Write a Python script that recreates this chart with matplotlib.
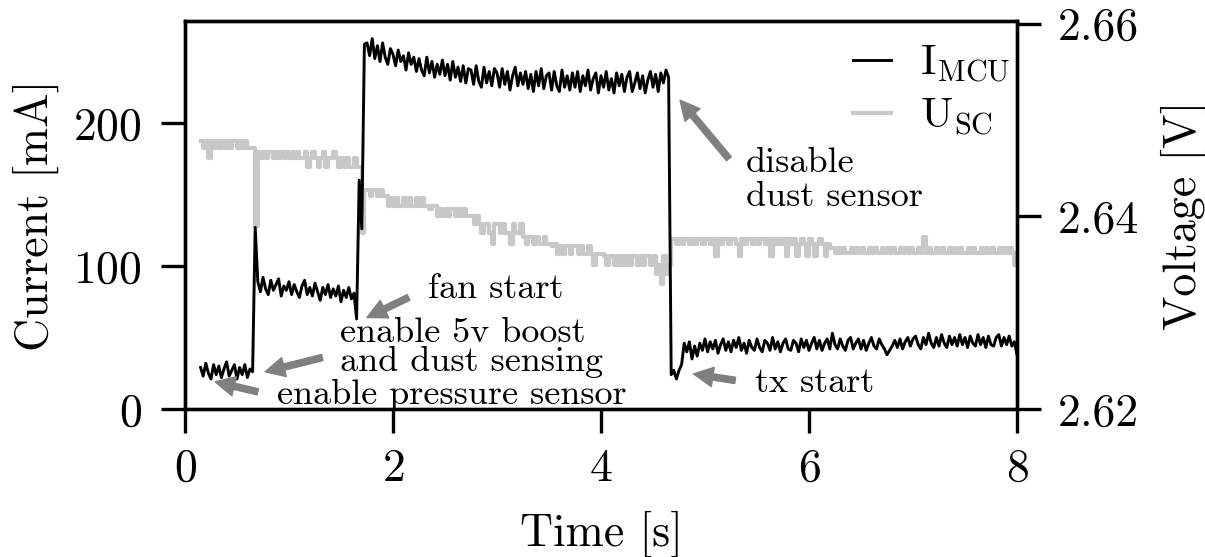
import numpy as np
import matplotlib
matplotlib.use("Agg")
import matplotlib.pyplot as plt
from matplotlib.ticker import FormatStrFormatter

plt.rcParams['font.family'] = 'serif'
plt.rcParams['font.serif'] = ['cmr10']
plt.rcParams['mathtext.fontset'] = 'cm'
plt.rcParams['axes.formatter.use_mathtext'] = True
plt.rcParams['axes.unicode_minus'] = False

# ---------------- data (sampled every 25 ms starting at 0.15 s) ----------------
t_start = 0.15
dt = 0.025

i_mcu = [
    # 0.15 - 0.625 s : pressure sensor
    29, 23, 32, 25, 21, 31, 24, 30, 22, 28, 33, 23, 27, 31, 21, 29, 24, 31, 22, 28,
    26, 127,
    # 0.70 - 1.60 s : 5v boost + dust sensing
    89, 82, 92, 84, 80, 90, 83, 87, 91, 79, 86, 83, 89, 80, 87, 82, 78, 86, 90, 80,
    85, 79, 88, 82, 76, 85, 80, 87, 78, 84, 79, 86, 75, 83, 78, 85, 77,
    # fan start transient
    81, 63, 160, 126, 255,
    # 1.75 - 4.65 s : fan running
    256, 247, 259, 245, 254, 243, 256, 246, 241, 252,
    248, 240, 251, 243, 247, 237, 249, 241, 246, 236,
    245, 237, 233, 246, 235, 243, 232, 241, 234, 244,
    233, 241, 230, 243, 232, 239, 229, 240, 228, 238,
    237, 227, 240, 229, 225, 239, 228, 236, 226, 238,
    235, 225, 238, 227, 236, 223, 233, 239, 226, 235,
    227, 236, 224, 234, 222, 236, 226, 238, 224, 233,
    235, 223, 236, 226, 222, 237, 225, 233, 223, 235,
    225, 236, 222, 233, 226, 237, 223, 231, 235, 221,
    233, 225, 236, 223, 231, 221, 235, 226, 234, 222,
    232, 236, 222, 228, 235, 224, 233, 221, 230, 236,
    225, 234, 222, 235, 228, 237, 232,
    # dust sensor off, tx start
    24, 27, 21, 27, 31, 46, 40, 47, 35, 44, 37, 46,
    # 4.975 - 8.0 s
    41, 49, 40, 47, 42, 48, 39, 45, 49, 41,
    47, 40, 48, 43, 50, 41, 46, 39, 48, 43,
    41, 49, 43, 40, 48, 46, 41, 50, 42, 47,
    40, 46, 49, 42, 41, 48, 46, 40, 49, 43,
    48, 41, 46, 50, 42, 48, 41, 46, 49, 42,
    53, 45, 42, 49, 44, 41, 48, 50, 42, 46,
    49, 42, 48, 41, 46, 50, 44, 42, 49, 45,
    42, 38, 41, 44, 48, 43, 49, 42, 47, 50,
    44, 49, 51, 45, 42, 50, 45, 53, 46, 43,
    50, 44, 52, 46, 43, 51, 45, 50, 44, 52,
    45, 50, 43, 51, 46, 44, 52, 45, 50, 43,
    51, 45, 44, 50, 52, 44, 50, 45, 51, 44,
    47, 38,
]

u_sc = [
    2.6478, 2.6471, 2.6478, 2.6461, 2.6478, 2.6471, 2.6478, 2.6471, 2.6478, 2.6471,
    2.6478, 2.6471, 2.6478, 2.6478, 2.6471, 2.6478, 2.6471, 2.6478, 2.6471, 2.6471,
    2.6471, 2.6390,
    2.6467, 2.6461, 2.6467, 2.6461, 2.6467, 2.6467, 2.6461, 2.6467, 2.6461, 2.6467,
    2.6461, 2.6467, 2.6461, 2.6467, 2.6461, 2.6467, 2.6461, 2.6461, 2.6467, 2.6451,
    2.6461, 2.6467, 2.6461, 2.6451, 2.6461, 2.6467, 2.6451, 2.6461, 2.6461, 2.6467,
    2.6461, 2.6451, 2.6461, 2.6451, 2.6461, 2.6451, 2.6451,
    2.6461, 2.6451, 2.6451, 2.6383, 2.6427,
    2.6427, 2.6421, 2.6427, 2.6427, 2.6421, 2.6427, 2.6421, 2.6421, 2.6411, 2.6419,
    2.6411, 2.6419, 2.6411, 2.6411, 2.6419, 2.6411, 2.6419, 2.6411, 2.6411, 2.6419,
    2.6411, 2.6419, 2.6411, 2.6411, 2.6408, 2.6411, 2.6411, 2.6400, 2.6408, 2.6400,
    2.6408, 2.6400, 2.6408, 2.6408, 2.6400, 2.6408, 2.6400, 2.6408, 2.6400, 2.6400,
    2.6400, 2.6392, 2.6400, 2.6392, 2.6383, 2.6392, 2.6392, 2.6383, 2.6371, 2.6392,
    2.6392, 2.6383, 2.6392, 2.6383, 2.6383, 2.6371, 2.6392, 2.6383, 2.6383, 2.6392,
    2.6379, 2.6371, 2.6379, 2.6379, 2.6371, 2.6379, 2.6371, 2.6371, 2.6379, 2.6371,
    2.6371, 2.6369, 2.6371, 2.6361, 2.6369, 2.6361, 2.6369, 2.6369, 2.6361, 2.6369,
    2.6369, 2.6361, 2.6369, 2.6361, 2.6361, 2.6369, 2.6361, 2.6350, 2.6361, 2.6361,
    2.6361, 2.6359, 2.6350, 2.6359, 2.6359, 2.6350, 2.6359, 2.6350, 2.6359, 2.6350,
    2.6359, 2.6350, 2.6359, 2.6359, 2.6350, 2.6359, 2.6350, 2.6359, 2.6359, 2.6350,
    2.6359, 2.6340, 2.6350, 2.6330, 2.6359, 2.6340, 2.6350,
    2.6377, 2.6377, 2.6371, 2.6377, 2.6371, 2.6377, 2.6377, 2.6371, 2.6377, 2.6371,
    2.6377, 2.6377,
    2.6371, 2.6377, 2.6377, 2.6371, 2.6377, 2.6359, 2.6377, 2.6371, 2.6377, 2.6377,
    2.6371, 2.6377, 2.6377, 2.6371, 2.6359, 2.6377, 2.6371, 2.6377, 2.6377, 2.6371,
    2.6377, 2.6371, 2.6377, 2.6377, 2.6371, 2.6377, 2.6359, 2.6377, 2.6371, 2.6377,
    2.6371, 2.6377, 2.6359, 2.6377, 2.6371, 2.6377, 2.6359, 2.6371, 2.6377, 2.6371,
    2.6359, 2.6377, 2.6371, 2.6359, 2.6371, 2.6377, 2.6371, 2.6359, 2.6371, 2.6367,
    2.6367, 2.6362, 2.6367, 2.6362, 2.6367, 2.6362, 2.6362, 2.6367, 2.6362, 2.6367,
    2.6362, 2.6367, 2.6362, 2.6362, 2.6367, 2.6362, 2.6367, 2.6362, 2.6362, 2.6367,
    2.6362, 2.6367, 2.6362, 2.6367, 2.6362, 2.6362, 2.6367, 2.6362, 2.6367, 2.6362,
    2.6367, 2.6362, 2.6362, 2.6367, 2.6362, 2.6379, 2.6362, 2.6367, 2.6362, 2.6362,
    2.6367, 2.6362, 2.6367, 2.6362, 2.6362, 2.6367, 2.6362, 2.6367, 2.6362, 2.6367,
    2.6362, 2.6362, 2.6367, 2.6362, 2.6367, 2.6362, 2.6362, 2.6367, 2.6362, 2.6367,
    2.6362, 2.6367, 2.6362, 2.6362, 2.6367, 2.6362, 2.6367, 2.6362, 2.6367, 2.6362,
    2.6350, 2.6362,
]

x_ticks = [0, 2, 4, 6, 8]
i_ticks = [0, 100, 200]
u_ticks = [2.62, 2.64, 2.66]

# annotations: (text, text position (t, mA), arrow tail (t, mA), arrow tip (t, mA), line spacing)
annotations = [
    ("disable\ndust sensor", (5.39, 160), (5.23, 175), (4.76, 216), 1.06),
    ("fan start", (2.34, 84), (2.15, 78), (1.75, 64), 1.0),
    ("enable 5v boost\nand dust sensing", (1.49, 43), (1.32, 36), (0.77, 26), 0.86),
    ("enable pressure sensor", (0.885, 10), (0.70, 12), (0.29, 19), 1.0),
    ("tx start", (5.48, 18), (5.29, 20), (4.89, 24.5), 1.0),
]

# ---------------- plot ----------------
t_i = t_start + dt * np.arange(len(i_mcu))
t_u = t_start + dt * np.arange(len(u_sc))

W, H = 1205, 557
fig = plt.figure(figsize=(W / 100, H / 100), dpi=100)
ax = fig.add_axes([185 / W, (H - 409) / H, (1017 - 185) / W, (409 - 21) / H])
ax2 = ax.twinx()

lu, = ax2.plot(t_u, u_sc, color='#c8c8c8', lw=3.0, drawstyle='steps-post',
               label=r'$\mathrm{U_{SC}}$')
li, = ax.plot(t_i, i_mcu, color='black', lw=2.1, label=r'$\mathrm{I_{MCU}}$')

ax.set_zorder(2)
ax2.set_zorder(1)
ax.patch.set_visible(False)

ax.set_xlim(0, 8)
ax.set_ylim(0, 271.3)
ax2.set_ylim(2.62, 2.6603)
ax.set_xticks(x_ticks)
ax.set_yticks(i_ticks)
ax2.set_yticks(u_ticks)
ax2.yaxis.set_major_formatter(FormatStrFormatter('%.2f'))

for a in (ax, ax2):
    for s in a.spines.values():
        s.set_linewidth(2.4)
    a.tick_params(length=17, width=2.4, labelsize=33, direction='out')
ax.tick_params(axis='x', pad=11)
ax.tick_params(axis='y', pad=14)
ax2.tick_params(axis='y', pad=12)

ax.set_xlabel('Time [s]', fontsize=33, labelpad=15)
ax.set_ylabel('Current [mA]', fontsize=33, labelpad=10)
ax2.set_ylabel('Voltage [V]', fontsize=33, labelpad=16)

for txt, pos, tail, tip, ls in annotations:
    ax.annotate('', xy=tip, xytext=tail,
                arrowprops=dict(color='#808080', width=4.5, headwidth=14,
                                headlength=14, shrink=0.0))
    ax.text(pos[0], pos[1], txt, fontsize=26, ha='left', va='center',
            linespacing=ls)

ax.legend(handles=[li, lu], loc='upper right', bbox_to_anchor=(0.992, 0.941),
          frameon=False, fontsize=31, handlelength=0.88, handletextpad=0.68,
          labelspacing=0.25, borderaxespad=0.0, borderpad=0.0)

fig.savefig('out.png', dpi=100)
